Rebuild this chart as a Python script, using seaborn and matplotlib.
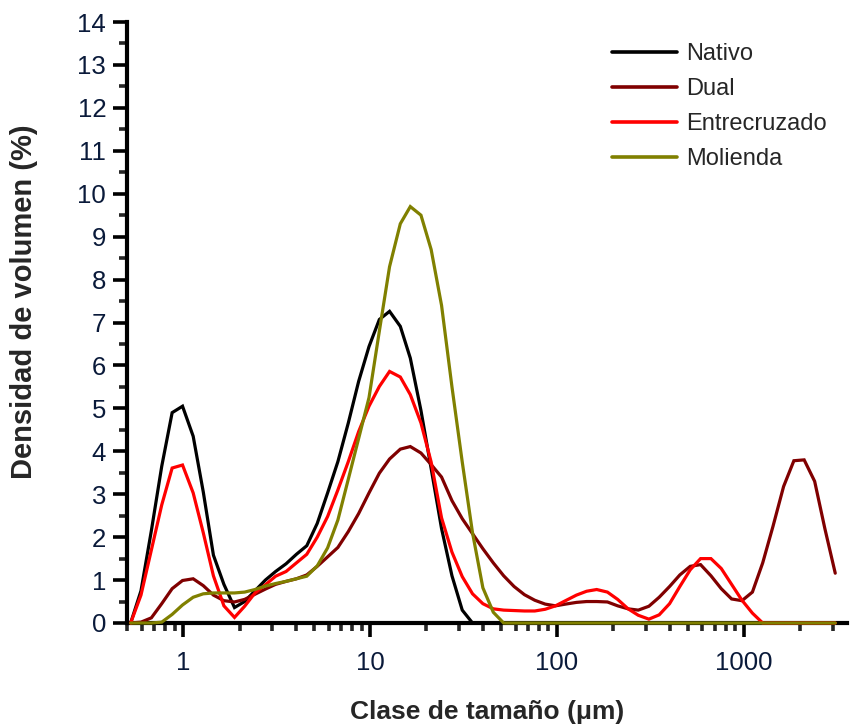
import matplotlib
matplotlib.use("Agg")
import matplotlib.pyplot as plt
import matplotlib.ticker as mticker
import seaborn as sns
import pandas as pd

# Size classes (µm)
size_um = [0.523, 0.594, 0.675, 0.767, 0.872, 0.991, 1.13, 1.28, 1.45, 1.65, 1.88,
           2.13, 2.42, 2.75, 3.12, 3.55, 4.03, 4.58, 5.21, 5.92, 6.72, 7.64, 8.68,
           9.86, 11.2, 12.7, 14.5, 16.4, 18.7, 21.2, 24.1, 27.4, 31.1, 35.3, 40.1,
           45.6, 51.8, 58.9, 66.9, 76.0, 86.4, 98.1, 111, 127, 144, 163, 186, 211,
           240, 272, 310, 352, 400, 454, 516, 586, 666, 756, 859, 976, 1110, 1260,
           1430, 1630, 1850, 2100, 2390, 2710, 3080]

nativo = [0.0, 0.75, 2.15, 3.65, 4.9, 5.05, 4.35, 3.05, 1.58, 0.9, 0.36,
          0.5, 0.75, 1.0, 1.2, 1.38, 1.6, 1.8, 2.32, 3.03, 3.76, 4.66, 5.63,
          6.44, 7.07, 7.26, 6.91, 6.17, 4.95, 3.6, 2.2, 1.1, 0.3, 0.0, 0.0,
          0.0, 0.0, 0.0, 0.0, 0.0, 0.0, 0.0, 0.0, 0.0, 0.0, 0.0, 0.0, 0.0,
          0.0, 0.0, 0.0, 0.0, 0.0, 0.0, 0.0, 0.0, 0.0, 0.0, 0.0, 0.0, 0.0, 0.0,
          0.0, 0.0, 0.0, 0.0, 0.0, 0.0, 0.0]

dual = [0.0, 0.02, 0.12, 0.45, 0.8, 0.99, 1.03, 0.87, 0.65, 0.52, 0.49,
        0.55, 0.67, 0.79, 0.9, 0.97, 1.03, 1.12, 1.32, 1.54, 1.76, 2.13, 2.55,
        3.03, 3.49, 3.82, 4.05, 4.11, 3.96, 3.69, 3.4, 2.85, 2.43, 2.08, 1.73,
        1.4, 1.1, 0.85, 0.66, 0.53, 0.44, 0.4, 0.44, 0.48, 0.5, 0.5, 0.49, 0.4,
        0.33, 0.3, 0.39, 0.6, 0.85, 1.12, 1.32, 1.36, 1.1, 0.8, 0.56, 0.52, 0.72, 1.4,
        2.25, 3.18, 3.78, 3.8, 3.3, 2.2, 1.16]

entrecruzado = [0.0, 0.65, 1.7, 2.75, 3.61, 3.68, 3.03, 2.1, 1.1, 0.4, 0.13,
                0.39, 0.7, 0.89, 1.09, 1.2, 1.4, 1.6, 2.0, 2.48, 3.1, 3.76, 4.46,
                5.05, 5.51, 5.86, 5.73, 5.32, 4.66, 3.75, 2.45, 1.65, 1.08, 0.68, 0.45,
                0.33, 0.3, 0.29, 0.28, 0.28, 0.32, 0.4, 0.52, 0.65, 0.74, 0.78, 0.72, 0.55,
                0.33, 0.18, 0.09, 0.19, 0.45, 0.85, 1.24, 1.5, 1.5, 1.27, 0.9, 0.53, 0.23, 0.0,
                0.0, 0.0, 0.0, 0.0, 0.0, 0.0, 0.0]

molienda = [0.0, 0.0, 0.0, 0.02, 0.2, 0.42, 0.6, 0.68, 0.7, 0.7, 0.7,
            0.72, 0.78, 0.86, 0.92, 0.97, 1.03, 1.09, 1.33, 1.75, 2.4, 3.35, 4.3,
            5.25, 6.8, 8.3, 9.3, 9.7, 9.5, 8.7, 7.4, 5.5, 3.75, 2.1, 0.82,
            0.25, 0.0, 0.0, 0.0, 0.0, 0.0, 0.0, 0.0, 0.0, 0.0, 0.0, 0.0, 0.0,
            0.0, 0.0, 0.0, 0.0, 0.0, 0.0, 0.0, 0.0, 0.0, 0.0, 0.0, 0.0, 0.0, 0.0,
            0.0, 0.0, 0.0, 0.0, 0.0, 0.0, 0.0]

series_names = ["Nativo", "Dual", "Entrecruzado", "Molienda"]
series_values = [nativo, dual, entrecruzado, molienda]
series_colors = ["#000000", "#800000", "#FF0000", "#808000"]

x_ticks = [1, 10, 100, 1000]
x_tick_labels = ["1", "10", "100", "1000"]
y_ticks = list(range(0, 15))

rows = []
for name, vals in zip(series_names, series_values):
    for s, v in zip(size_um, vals):
        rows.append({"size": s, "vol": v, "serie": name})
df = pd.DataFrame(rows)

sns.set_theme(style="ticks")
plt.rcParams["font.family"] = ["Liberation Sans", "DejaVu Sans"]

fig = plt.figure(figsize=(8.55, 7.27), dpi=100)
ax = fig.add_axes([127 / 855, 1 - 623 / 727, (847 - 127) / 855, (623 - 22) / 727])

sns.lineplot(data=df, x="size", y="vol", hue="serie", hue_order=series_names,
             palette=dict(zip(series_names, series_colors)), sort=False,
             estimator=None, linewidth=2.3, ax=ax, legend=True)
for ln in ax.get_lines():
    ln.set_clip_on(False)
    ln.set_zorder(3)
    ln.set_solid_joinstyle("miter")

ax.set_xscale("log")
ax.set_xlim(0.5, 3560)
ax.set_ylim(0, 14)
ax.set_xticks(x_ticks)
ax.set_xticklabels(x_tick_labels)
ax.xaxis.set_minor_locator(mticker.LogLocator(base=10, subs=[2, 3, 4, 5, 6, 7, 8, 9], numticks=20))
ax.xaxis.set_minor_formatter(mticker.NullFormatter())
ax.set_yticks(y_ticks)
ax.yaxis.set_minor_locator(mticker.MultipleLocator(0.5))

for side in ["top", "right"]:
    ax.spines[side].set_visible(False)
for side in ["left", "bottom"]:
    ax.spines[side].set_linewidth(3)
    ax.spines[side].set_color("black")

ax.tick_params(axis="both", which="major", direction="out", length=10, width=2.6,
               labelsize=18.5, colors="black")
ax.tick_params(axis="both", which="minor", direction="out", length=5.5, width=2.6)
ax.tick_params(axis="x", which="major", pad=10.5)
ax.tick_params(axis="y", which="major", pad=5)
for lab in ax.get_xticklabels() + ax.get_yticklabels():
    lab.set_color("#0a1a3a")

ax.set_xlabel("Clase de tamaño (μm)", fontsize=19, fontweight="bold")
ax.set_ylabel("Densidad de volumen (%)", fontsize=21, fontweight="bold")
ax.xaxis.set_label_coords(0.5, -0.128)
ax.yaxis.set_label_coords(-0.123, 0.534)

handles, labels = ax.get_legend_handles_labels()
leg = ax.legend(handles, labels, frameon=False, fontsize=17, loc="upper left",
                bbox_to_anchor=(603 / 855, 1 - 34 / 727), bbox_transform=fig.transFigure,
                borderaxespad=0, handlelength=2.75, handletextpad=0.35, labelspacing=0.55)
for h in leg.get_lines():
    h.set_linewidth(2.6)

fig.savefig("out.png", dpi=100)
